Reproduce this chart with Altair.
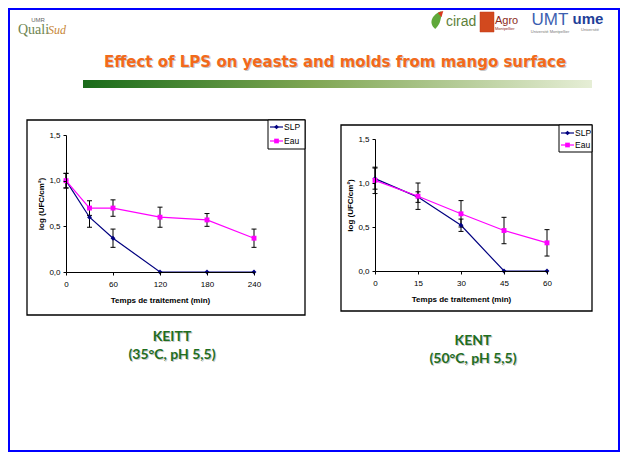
import altair as alt
import pandas as pd

# ---------------- data ----------------
series = ["SLP", "Eau"]
series_colors = ["#000080", "#FF00FF"]
series_shapes = ["diamond", "square"]

keitt_time = [0, 30, 60, 120, 180, 240]
keitt_slp = [1.00, 0.60, 0.37, 0.00, 0.00, 0.00]
keitt_slp_err = [0.08, 0.11, 0.10, 0.00, 0.00, 0.00]
keitt_eau = [1.00, 0.70, 0.70, 0.60, 0.57, 0.37]
keitt_eau_err = [0.08, 0.08, 0.09, 0.11, 0.07, 0.10]
keitt_ticks = [0, 60, 120, 180, 240]

kent_time = [0, 15, 30, 45, 60]
kent_slp = [1.05, 0.84, 0.52, 0.00, 0.00]
kent_slp_err = [0.12, 0.06, 0.07, 0.00, 0.00]
kent_eau = [1.03, 0.85, 0.65, 0.46, 0.32]
kent_eau_err = [0.15, 0.15, 0.15, 0.15, 0.15]
kent_ticks = [0, 15, 30, 45, 60]

y_ticks = [0, 0.5, 1.0, 1.5]

slide_title = "Effect of LPS on yeasts and molds from mango surface"
x_title = "Temps de traitement (min)"
y_title = "log (UFC/cm²)"
keitt_caption = ["KEITT", "(35°C, pH 5,5)"]
kent_caption = ["KENT", "(50°C, pH 5,5)"]

# ---------------- layout ----------------
W, H = 613, 444
FONT = "Liberation Sans"
one = pd.DataFrame({"k": [0]})


def long_df(time, slp, slp_err, eau, eau_err):
    rows = []
    for s, vals, errs in ((series[0], slp, slp_err), (series[1], eau, eau_err)):
        for t, v, e in zip(time, vals, errs):
            rows.append({"t": t, "value": v, "err": e, "series": s})
    return pd.DataFrame(rows)


def txt(text, x, y, size, color, weight="normal", font=FONT, align="center",
        style="normal", opacity=1.0):
    return alt.Chart(pd.DataFrame({"t": [text]})).mark_text(
        align=align, baseline="middle", fontSize=size, fontWeight=weight,
        font=font, color=color, fontStyle=style, opacity=opacity
    ).encode(x=alt.value(x), y=alt.value(y), text="t:N")


def box(x0, x1, y0, y1, stroke="black", sw=1.0, fill="white", fill_opacity=1.0):
    return alt.Chart(one).mark_rect(
        fill=fill, fillOpacity=fill_opacity, stroke=stroke, strokeWidth=sw
    ).encode(x=alt.value(x0), x2=alt.value(x1), y=alt.value(y0), y2=alt.value(y1))


def panel(df, xdomain, xrange, yrange, xticks, frame, leg):
    xs = alt.Scale(domain=xdomain, range=xrange, nice=False, zero=False)
    ys = alt.Scale(domain=[0, 1.5], range=yrange, nice=False)
    common = dict(grid=False, domainColor="black", tickColor="black",
                  labelColor="black", titleColor="black", labelFont=FONT,
                  titleFont=FONT, labelFontSize=8, titleFontSize=8,
                  titleFontWeight="bold", tickSize=3, domainWidth=1, zindex=1)
    xaxis = alt.Axis(orient="bottom", offset=yrange[0] - H, values=xticks,
                     title=x_title, format="d", labelPadding=5, titlePadding=8,
                     labelFlush=False, **common)
    yaxis = alt.Axis(orient="left", offset=-xrange[0], values=y_ticks,
                     labelExpr="replace(format(datum.value, '.1f'), '.', ',')",
                     title=y_title, labelPadding=3, titlePadding=3, **common)
    X = alt.X("t:Q", scale=xs, axis=xaxis)
    color = alt.Color("series:N", scale=alt.Scale(domain=series, range=series_colors), legend=None)
    base = alt.Chart(df)

    layers = [box(*frame, sw=1.3)]
    err = base.transform_filter("datum.err > 0").transform_calculate(
        lo="datum.value - datum.err", hi="datum.value + datum.err")
    lines = base.mark_line(strokeWidth=1.2).encode(
        x=X, y=alt.Y("value:Q", scale=ys, axis=yaxis), color=color)
    rules = err.mark_rule(color="black", strokeWidth=1, opacity=1).encode(
        x=X, y=alt.Y("lo:Q", scale=ys, axis=yaxis), y2="hi:Q")
    cap_lo = err.mark_tick(orient="horizontal", size=5, thickness=1, color="black", opacity=1).encode(
        x=X, y=alt.Y("lo:Q", scale=ys, axis=yaxis))
    cap_hi = err.mark_tick(orient="horizontal", size=5, thickness=1, color="black", opacity=1).encode(
        x=X, y=alt.Y("hi:Q", scale=ys, axis=yaxis))
    pts = base.mark_point(filled=True, opacity=1, size=24).encode(
        x=X, y=alt.Y("value:Q", scale=ys, axis=yaxis), color=color,
        shape=alt.Shape("series:N", scale=alt.Scale(domain=series, range=series_shapes), legend=None))
    layers += [lines, rules, cap_lo, cap_hi, pts]

    # legend box (Excel style)
    lx0, lx1, ly0, ly1 = leg["box"]
    layers.append(box(lx0, lx1, ly0, ly1, sw=1))
    for i, s in enumerate(series):
        ry = leg["rows"][i]
        d = pd.DataFrame({"s": [s]})
        layers.append(alt.Chart(d).mark_rule(color=series_colors[i], strokeWidth=1.2).encode(
            x=alt.value(leg["line"][0]), x2=alt.value(leg["line"][1]), y=alt.value(ry)))
        layers.append(alt.Chart(d).mark_point(shape=series_shapes[i], filled=True,
                                              color=series_colors[i], size=22, opacity=1).encode(
            x=alt.value((leg["line"][0] + leg["line"][1]) / 2), y=alt.value(ry)))
        layers.append(alt.Chart(d).mark_text(align="left", baseline="middle", font=FONT,
                                             fontSize=8.5, color="black").encode(
            x=alt.value(leg["tx"]), y=alt.value(ry), text="s:N"))
    return alt.layer(*layers)


left = panel(long_df(keitt_time, keitt_slp, keitt_slp_err, keitt_eau, keitt_eau_err),
             [0, 240], [58, 246], [264, 127], keitt_ticks,
             (19, 297, 112, 307),
             {"box": (260, 297, 112, 141), "rows": (119, 133), "line": (262, 275), "tx": 276})
right = panel(long_df(kent_time, kent_slp, kent_slp_err, kent_eau, kent_eau_err),
              [0, 60], [367, 539], [263, 131], kent_ticks,
              (333, 584, 117, 303),
              {"box": (551, 584, 117, 144), "rows": (125, 137), "line": (553, 566), "tx": 567})

# ---------------- slide decoration ----------------
gradient = alt.LinearGradient(
    gradient="linear", x1=0, x2=1, y1=0, y2=0,
    stops=[alt.GradientStop(color="#1A6B1A", offset=0),
           alt.GradientStop(color="#7FA653", offset=0.45),
           alt.GradientStop(color="#E6EED6", offset=1)])
bar = alt.Chart(one).mark_rect(color=gradient).encode(
    x=alt.value(75), x2=alt.value(584), y=alt.value(72), y2=alt.value(80))

leaf = alt.Chart(one).mark_point(
    shape="M-0.2,1 C-1,0.4 -0.6,-0.6 0.5,-1 C0.5,-0.3 0.4,0.5 -0.2,1 Z",
    filled=True, color="#5FA83A", size=320, opacity=1).encode(x=alt.value(429), y=alt.value(12))
leaf_tip = alt.Chart(one).mark_point(
    shape="M0.1,-0.8 L0.7,-1 L0.5,-0.3 Z",
    filled=True, color="#D9381E", size=320, opacity=1).encode(x=alt.value(429), y=alt.value(12))

header = [
    box(1, 611, 1, H - 1, stroke="#0000FF", sw=2, fill="white", fill_opacity=0),
    txt("UMR", 30, 12, 6, "#666666"),
    txt("Quali", 10, 22, 14, "#6E8450", font="Liberation Serif", align="left"),
    txt("Sud", 40, 22, 12, "#C8873A", font="Liberation Serif", align="left", style="italic"),
    leaf, leaf_tip,
    txt("cirad", 438, 14, 14, "#5E7F3A", align="left"),
    box(472, 486, 4, 24, stroke="#C0391B", sw=0.5, fill="#D2491E"),
    txt("Agro", 487, 13, 11, "#8B2A1A", align="left"),
    txt("Montpellier", 487, 21, 4, "#8B2A1A", align="left"),
    txt("UMT", 542, 12, 17, "#3D5FB0"),
    txt("Université Montpellier", 542, 24, 4, "#777777"),
    txt("ume", 580, 11, 15, "#1F3F99", weight="bold"),
    txt("Université", 582, 22, 4, "#777777"),
    txt(slide_title, 328, 55, 15, "#B0B0B0", weight="bold", font="DejaVu Sans", opacity=0.7),
    txt(slide_title, 327, 54, 15, "#F26A1B", weight="bold", font="DejaVu Sans"),
    bar,
    txt(keitt_caption[0], 165, 330, 14, "#C8C8C8", weight="bold", font="Lato"),
    txt(keitt_caption[0], 164, 329, 14, "#1F6E1F", weight="bold", font="Lato"),
    txt(keitt_caption[1], 165, 348, 14, "#C8C8C8", weight="bold", font="Lato"),
    txt(keitt_caption[1], 164, 347, 14, "#1F6E1F", weight="bold", font="Lato"),
    txt(kent_caption[0], 466, 334, 14, "#C8C8C8", weight="bold", font="Lato"),
    txt(kent_caption[0], 465, 333, 14, "#1F6E1F", weight="bold", font="Lato"),
    txt(kent_caption[1], 466, 352, 14, "#C8C8C8", weight="bold", font="Lato"),
    txt(kent_caption[1], 465, 351, 14, "#1F6E1F", weight="bold", font="Lato"),
]

chart = alt.layer(*header, left, right).resolve_scale(
    x="independent", y="independent"
).properties(
    width=W, height=H, padding=0,
    autosize=alt.AutoSizeParams(type="none"), background="white"
).configure_view(strokeWidth=0)

chart.save("out.html", embed_options={"renderer": "svg", "actions": False})
